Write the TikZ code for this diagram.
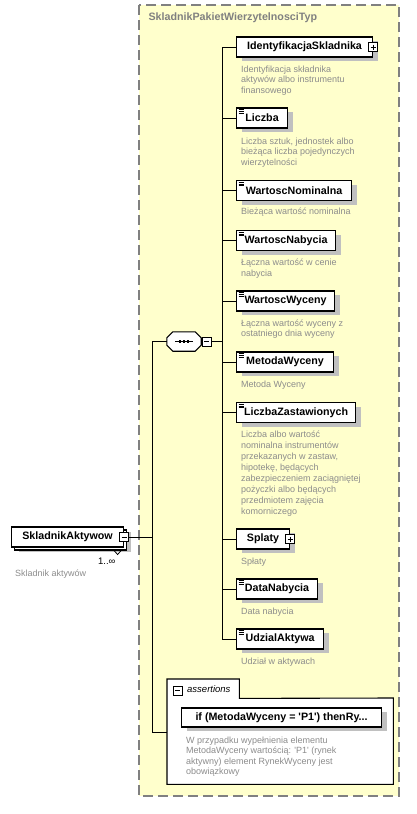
\documentclass[tikz,border=0pt]{standalone}
\usepackage{fontspec}
\setmainfont{Liberation Sans}[Ligatures=TeXOff]
\usetikzlibrary{shadows}

\definecolor{typefill}{HTML}{FFFFCC}
\definecolor{typeline}{HTML}{808080}
\definecolor{desctext}{HTML}{8C8C8C}
\definecolor{shadowgray}{HTML}{C0C0C0}

\tikzset{
  box/.style={draw, line width=1.1pt, fill=white, minimum height=20pt, minimum width=#1,
    inner sep=0pt, anchor=west, font=\fontsize{10.7}{12}\selectfont\bfseries},
  elem/.style={box=#1, drop shadow={shadow xshift=5pt, shadow yshift=-4pt, fill=shadowgray, opacity=1}},
  multielem/.style={box=#1, drop shadow={shadow xshift=7pt, shadow yshift=-5pt, fill=shadowgray, opacity=1},
    copy shadow={shadow xshift=3pt, shadow yshift=-3pt}},
  desc/.style={anchor=north west, inner sep=0pt, align=left, text=desctext, font=\fontsize{9}{10.5}\selectfont},
  minusbox/.style={draw, line width=0.8pt, fill=white, minimum size=9pt, inner sep=0pt,
    path picture={\draw[line width=0.8pt] ([xshift=2pt]path picture bounding box.west) -- ([xshift=-2pt]path picture bounding box.east);}},
  plusbox/.style={draw, line width=0.8pt, fill=white, minimum size=9pt, inner sep=0pt,
    path picture={\draw[line width=0.8pt] ([xshift=2pt]path picture bounding box.west) -- ([xshift=-2pt]path picture bounding box.east)
      ([yshift=-2pt]path picture bounding box.north) -- ([yshift=2pt]path picture bounding box.south);}},
  seqbox/.style={minimum width=34pt, minimum height=19pt, inner sep=0pt},
  link/.style={line width=1pt},
}

\begin{document}
\begin{tikzpicture}[x=1pt, y=-1pt]
\useasboundingbox (0,0) rectangle (417,814);

% Complex type area
\draw[fill=typefill, draw=typeline, line width=1.2pt, dash pattern=on 10pt off 5pt] (139,5) rectangle (399,796);
\node[anchor=west, text=typeline, font=\fontsize{10.7}{12}\selectfont\bfseries] (typetitle) at (145,18) {SkladnikPakietWierzytelnosciTyp};

\coordinate (branch) at (152,0);
\coordinate (trunk) at (222,0);

% Root element
\node[multielem=112pt] (aktywow) at (11,537) {SkladnikAktywow\hspace{4pt}};
\node[minusbox] (aktywowminus) at (aktywow.east) {};
\draw[line width=0.8pt] ([shift={(-10,3)}]aktywow.south east) -- ++(3.5,4) -- ++(3.5,-4);
\node[anchor=east, font=\fontsize{9.5}{11}\selectfont] (occurs) at (119,561) {1..∞};
\node[desc] (aktywowdesc) at (15,570) {Skladnik aktywów};

% Sequence
\node[seqbox] (seq) at (184,341.5) {};
\foreach \o/\c/\d in {4/shadowgray/none, 0/white/black}
  \draw[fill=\c, draw=\d, line width=1.1pt, shift={(\o,\o)}]
    ([xshift=6]seq.north west) -- ([xshift=-6]seq.north east) -- ([yshift=-6]seq.north east)
    -- ([yshift=6]seq.south east) -- ([xshift=-6]seq.south east) -- ([xshift=6]seq.south west)
    -- ([yshift=6]seq.south west) -- ([yshift=-6]seq.north west) -- cycle;
\draw[line width=1pt] ([xshift=-9pt]seq.center) -- ([xshift=9pt]seq.center);
\foreach \dx in {-4,0,4}
  \fill ([shift={(\dx-1.4,-1.4)}]seq.center) rectangle ++(2.8,2.8);
\node[minusbox] (seqminus) at ([xshift=5.5pt]seq.east) {};

% Child elements
\node[elem=136pt] (ident) at (236,47) {IdentyfikacjaSkladnika};
\node[plusbox] (identplus) at (ident.east) {};
\node[desc] (identdesc) at ([shift={(5,8)}]ident.south west) {Identyfikacja składnika\\aktywów albo instrumentu\\finansowego};

\node[elem=51pt] (liczba) at (236,118) {Liczba};
\node[desc] (liczbadesc) at ([shift={(5,9)}]liczba.south west) {Liczba sztuk, jednostek albo\\bieżąca liczba pojedynczych\\wierzytelności};

\node[elem=115pt] (nominal) at (236,190.5) {WartoscNominalna};
\node[desc] (nominaldesc) at ([shift={(5,7)}]nominal.south west) {Bieżąca wartość nominalna};

\node[elem=99pt] (nabycie) at (236,240.5) {WartoscNabycia};
\node[desc] (nabyciedesc) at ([shift={(5,8)}]nabycie.south west) {Łączna wartość w cenie\\nabycia};

\node[elem=98pt] (wycena) at (236,301) {WartoscWyceny};
\node[desc] (wycenadesc) at ([shift={(5,8)}]wycena.south west) {Łączna wartość wyceny z\\ostatniego dnia wyceny};

\node[elem=97pt] (metoda) at (236,362) {MetodaWyceny};
\node[desc] (metodadesc) at ([shift={(5,8)}]metoda.south west) {Metoda Wyceny};

\node[elem=119pt] (zastaw) at (236,412.5) {LiczbaZastawionych};
\node[desc, font=\fontsize{9}{11}\selectfont] (zastawdesc) at ([shift={(5,8)}]zastaw.south west) {Liczba albo wartość\\nominalna instrumentów\\przekazanych w zastaw,\\hipotekę, będących\\zabezpieczeniem zaciągniętej\\pożyczki albo będących\\przedmiotem zajęcia\\komorniczego};

\node[elem=53pt] (splaty) at (236,539) {Splaty\hspace{4pt}};
\node[plusbox] (splatyplus) at (splaty.east) {};
\node[desc] (splatydesc) at ([shift={(5,8)}]splaty.south west) {Spłaty};

\node[elem=81pt] (datanab) at (236,589) {DataNabycia};
\node[desc] (datanabdesc) at ([shift={(5,8)}]datanab.south west) {Data nabycia};

\node[elem=87pt] (udzial) at (236,639) {UdzialAktywa};
\node[desc] (udzialdesc) at ([shift={(5,8)}]udzial.south west) {Udział w aktywach};

% Simple type marks
\foreach \e in {liczba,nominal,nabycie,wycena,metoda,zastaw,datanab,udzial}
  \foreach \dy in {2,3.8,5.6}
    \draw[line width=0.45pt] ([shift={(2.5,\dy)}]\e.north west) -- ++(5.5,0);

% Assertions
\node[fill=white, minimum width=226pt, minimum height=86pt, inner sep=0pt, anchor=north west] (asbox) at (167,698) {};
\node[fill=white, minimum width=72pt, minimum height=19pt, inner sep=0pt, anchor=north west] (astab) at (167,679) {};
\draw[line width=1.1pt] (asbox.south west) -- (astab.north west) -- (astab.north east) -- (astab.south east)
  -- (asbox.north east) -- (asbox.south east) -- cycle;
\node[minusbox] (asminus) at (177.5,690.5) {};
\node[anchor=west, inner sep=0pt, font=\fontsize{9.5}{11}\selectfont\itshape] (astitle) at (187,689) {assertions};
\node[elem=200pt, minimum height=19pt] (assert) at (181,717.5) {if (MetodaWyceny = 'P1') thenRy...};
\node[desc] (assertdesc) at ([shift={(5,9)}]assert.south west) {W przypadku wypełnienia elementu\\MetodaWyceny wartością: 'P1' (rynek\\aktywny) element RynekWyceny jest\\obowiązkowy};
\coordinate (asin) at (167,732);

% Connectors
\draw[link] (aktywowminus.east) -- (aktywowminus.east -| branch);
\draw[link] (seq.west -| branch) -- (seq.west);
\draw[link] (seq.west -| branch) -- (asin -| branch) -- (asin);
\draw[link] (seqminus.east) -- (seqminus.east -| trunk);
\draw[link] (ident.west -| trunk) -- (udzial.west -| trunk);
\foreach \e in {ident,liczba,nominal,nabycie,wycena,metoda,zastaw,splaty,datanab,udzial}
  \draw[link] (\e.west -| trunk) -- (\e.west);

\end{tikzpicture}
\end{document}
